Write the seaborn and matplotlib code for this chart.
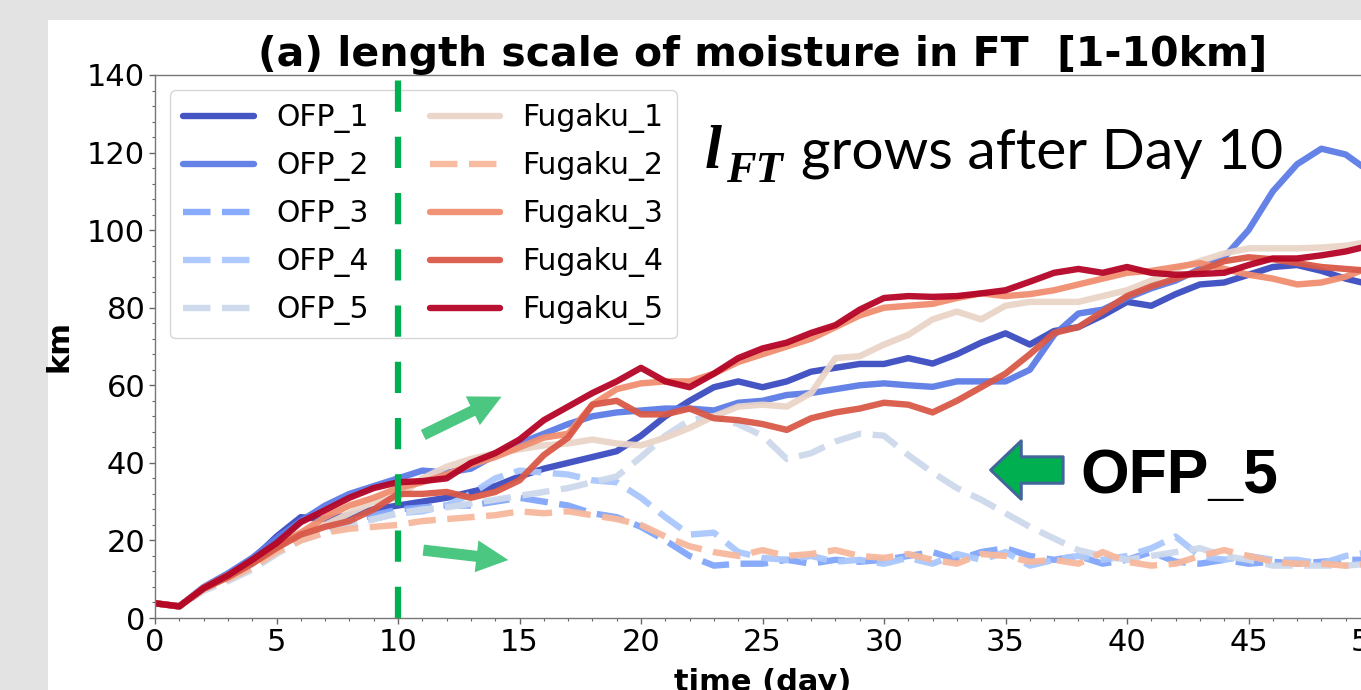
import numpy as np
import pandas as pd
import matplotlib
matplotlib.use("Agg")
import matplotlib.pyplot as plt
import seaborn as sns
from matplotlib.patches import Rectangle
from matplotlib.ticker import MultipleLocator

# ---------------- data ----------------
days = list(range(51))

ofp_1 = [3.8, 3.0, 7.8, 11, 15, 21, 26, 25.5, 26.5, 28, 29, 30, 31, 32.5, 34, 36.5, 38.5, 40, 41.5, 43,
         47, 52, 56, 59.5, 61, 59.5, 61, 63.5, 64.5, 65.5, 65.5, 67, 65.6, 68, 71, 73.4, 70.5, 74, 75, 78,
         81.5, 80.5, 83.5, 86, 86.5, 88.5, 90.5, 91, 89.5, 87.5, 86]
ofp_2 = [3.8, 3.0, 8, 11.5, 15.5, 20.5, 25, 29, 32, 34, 36, 38, 37.5, 38.5, 42, 45, 47.5, 50, 52, 53,
         53.5, 54, 54, 53.5, 55.5, 56, 57.5, 58, 59, 60, 60.5, 60, 59.6, 61, 61, 61, 64, 73, 78.5, 79.5,
         82.5, 85, 87, 90, 93, 100, 110, 117, 121, 119.5, 115]
ofp_3 = [3.8, 3.0, 7.5, 10, 13.5, 18, 21, 23, 25, 26.5, 28, 28.5, 29, 29, 30, 31, 30, 29, 27, 26,
         23.5, 20, 16, 13.5, 14, 14, 15, 14, 15, 14.5, 15, 16, 17, 15, 17, 18, 16, 15, 16, 14,
         15, 17, 14.5, 14, 15, 14, 14.5, 14, 14.5, 15, 15]
ofp_4 = [3.8, 3.0, 7.5, 10, 13.5, 17.5, 20.5, 22.5, 24, 25.5, 27, 27.5, 29, 32, 36, 38, 37.5, 37, 35.5, 35,
         31, 26, 21.5, 22, 17, 15.5, 15, 16, 14.5, 15, 14, 15.5, 14, 16.5, 15, 17, 13.5, 15, 16, 15,
         16, 18, 21, 16, 15, 16, 15, 15, 14, 16, 17]
ofp_5 = [3.8, 3.0, 7, 9.5, 12.5, 16.5, 20, 22, 24, 25.5, 27, 28, 28.5, 29.5, 30.5, 31.5, 32.5, 33.5, 35, 36.5,
         41.5, 47, 51, 52, 50, 47, 41, 42.5, 45.5, 47.5, 47, 42, 37.5, 33.5, 30.5, 27, 23.5, 20.5, 17.5, 16,
         15, 16, 17, 18, 16, 15, 13.5, 13.5, 13.5, 13.5, 14]
fugaku_1 = [3.8, 3.0, 7.5, 10.5, 14, 18.5, 22, 24, 27, 30, 31, 36, 39, 41, 42.5, 43.5, 44.5, 45, 46, 45,
            44.5, 46.5, 49, 52, 54.5, 55, 54.5, 58, 67, 67.5, 70.5, 73, 77, 79, 77, 80.5, 81.5, 81.5, 81.5, 83,
            84.5, 87, 90, 92, 94, 95.3, 95.3, 95.3, 95.5, 96, 97]
fugaku_2 = [3.8, 3.0, 7.5, 10, 13, 17, 20, 22, 23, 23.5, 24, 25, 25.5, 26, 26.5, 27.5, 27, 27.5, 26.5, 25.5,
            24, 21, 18.5, 17, 16, 17.5, 16, 16.5, 17.5, 16, 15.5, 16.5, 15, 14, 16.5, 16, 14.5, 15, 14, 17,
            14.5, 13.5, 14, 16, 17.5, 16, 14.5, 14, 14, 13.5, 14]
fugaku_3 = [3.8, 3.0, 7.8, 11, 14.5, 18.5, 22, 26, 29, 31, 33.5, 35, 37, 39.5, 41.5, 44, 46.5, 47.5, 55, 59,
            60.5, 61, 61, 63, 66, 68, 70, 72, 75, 78, 80, 80.5, 81, 82.5, 83.7, 83, 83.5, 84.5, 86, 87.5,
            89, 89.5, 90.5, 91.5, 90, 88.5, 87.5, 86, 86.5, 88, 90.5]
fugaku_4 = [3.8, 3.0, 7.5, 10.5, 14, 18, 21.5, 23.5, 25, 28, 32, 32, 32.5, 31, 32.5, 35.5, 42, 46.5, 55, 56,
            52.5, 52.5, 54, 51.5, 51, 50, 48.5, 51.5, 53, 54, 55.5, 55, 53, 56, 59.5, 63, 68, 73.5, 75, 79,
            83, 85.5, 87.5, 89.5, 92, 93, 92.5, 91.5, 90.5, 90, 89.5]
fugaku_5 = [3.8, 3.0, 7.7, 11, 15, 19.3, 24.7, 27.8, 31, 33.5, 35, 35.3, 36, 40, 42.5, 46, 51, 54.5, 58, 61,
            64.5, 61, 59.5, 63, 67, 69.5, 71, 73.5, 75.5, 79.5, 82.5, 83, 82.8, 83, 83.7, 84.5, 86.7, 89, 90, 89,
            90.5, 89, 88.5, 88.7, 89, 91, 92.7, 92.7, 93.5, 94.5, 96]

series_names = ["OFP_1", "OFP_2", "OFP_3", "OFP_4", "OFP_5",
                "Fugaku_1", "Fugaku_2", "Fugaku_3", "Fugaku_4", "Fugaku_5"]
series_values = [ofp_1, ofp_2, ofp_3, ofp_4, ofp_5,
                 fugaku_1, fugaku_2, fugaku_3, fugaku_4, fugaku_5]
dashed_series = ["OFP_3", "OFP_4", "OFP_5", "Fugaku_2"]

x_ticks = [0, 5, 10, 15, 20, 25, 30, 35, 40, 45, 50]
y_ticks = [0, 20, 40, 60, 80, 100, 120, 140]

title_text = "(a) length scale of moisture in FT  [1-10km]"

# ---------------- figure ----------------
sns.set_style("white")
plt.rcParams["font.family"] = ["DejaVu Sans"]
plt.rcParams["text.color"] = "black"
plt.rcParams["axes.labelcolor"] = "black"
plt.rcParams["axes.titlecolor"] = "black"

W, H = 1361, 690
fig = plt.figure(figsize=(W / 100, H / 100), dpi=100, facecolor="#e3e3e3")
fig.patches.append(Rectangle((48 / W, 0), 1, 1 - 20 / H, transform=fig.transFigure,
                             facecolor="white", edgecolor="none", zorder=-1))
ax = fig.add_axes([155 / W, 1 - 618 / H, (1370 - 155) / W, (618 - 75) / H])
ax.set_facecolor("white")

df = pd.DataFrame({"day": days})
for name, vals in zip(series_names, series_values):
    df[name] = vals

colors = plt.get_cmap("coolwarm")(np.linspace(0, 1, len(series_names)))
dash = (0, (4.3, 1.8))
for i, name in enumerate(series_names):
    ls = dash if name in dashed_series else "-"
    sns.lineplot(data=df, x="day", y=name, ax=ax, color=colors[i], lw=4.6,
                 linestyle=ls, label=name, legend=False, alpha=0.95, zorder=2 + i * 0.01)

ax.axvline(10, color="#00b050", lw=4.5, linestyle=(0, (5, 4)), zorder=6)

ax.set_xlim(0, 50)
ax.set_ylim(0, 140)
ax.set_xticks(x_ticks)
ax.set_yticks(y_ticks)
ax.xaxis.set_minor_locator(MultipleLocator(1))
ax.yaxis.set_minor_locator(MultipleLocator(4))
ax.tick_params(which="major", direction="out", length=4, width=1, color="#666666",
               labelcolor="black", labelsize=22, pad=3, bottom=True, left=True)
ax.tick_params(which="minor", direction="out", length=2.2, width=0.8, color="#666666",
               bottom=True, left=True)
for sp in ax.spines.values():
    sp.set_color("#777777")
    sp.set_linewidth(1.0)

ax.set_title(title_text, fontsize=29.5, fontweight="bold", pad=2, color="black")
ax.set_ylabel("km", fontsize=22, fontweight="bold", labelpad=10)
ax.set_xlabel("time (day)", fontsize=22, fontweight="bold", labelpad=8)

leg = ax.legend(ncol=2, loc="upper left", fontsize=21.5, handlelength=2.35,
                handletextpad=0.75, columnspacing=2.05, labelspacing=0.6,
                borderpad=0.45, framealpha=0.8)
for t in leg.get_texts():
    t.set_color("black")

# ---------------- slide annotations ----------------
arrow_green = "#4cc782"
ax.annotate("", xy=(14.26, 57.05), xytext=(11.04, 47.2),
            arrowprops=dict(arrowstyle="simple,head_length=2.3,head_width=2.3,tail_width=0.8",
                            mutation_scale=10, fc=arrow_green, ec="none", shrinkA=0, shrinkB=0),
            zorder=7)
ax.annotate("", xy=(14.54, 14.95), xytext=(11.04, 17.5),
            arrowprops=dict(arrowstyle="simple,head_length=2.3,head_width=2.3,tail_width=0.8",
                            mutation_scale=10, fc=arrow_green, ec="none", shrinkA=0, shrinkB=0),
            zorder=7)
ax.annotate("", xy=(34.39, 38.15), xytext=(37.37, 38.15),
            arrowprops=dict(arrowstyle="simple,head_length=2.2,head_width=4.2,tail_width=1.9",
                            mutation_scale=10, fc="#00b050", ec="#41669a", lw=2.2,
                            shrinkA=0, shrinkB=0),
            zorder=7)
ax.text(38.1, 32.2, "OFP_5", fontsize=45, fontweight="bold", color="black",
        family=["Liberation Sans", "DejaVu Sans"], va="baseline", ha="left", zorder=7)

ax.text(22.6, 116, "l", fontsize=44, fontweight="bold", style="italic", color="black",
        family=["Liberation Serif", "DejaVu Serif"], va="baseline", ha="left", zorder=7)
ax.text(23.5, 112.4, "FT", fontsize=32, fontweight="bold", style="italic", color="black",
        family=["Liberation Serif", "DejaVu Serif"], va="baseline", ha="left", zorder=7)
grows = ax.text(26.58, 116, "grows after Day 10", fontsize=40, color="black",
                family=["Lato", "DejaVu Sans"], va="baseline", ha="left", zorder=7)

# fit the annotation width to the reference (about 482 px)
fig.canvas.draw()
bb = grows.get_window_extent()
grows.set_fontsize(40 * 482 / bb.width)

fig.savefig("out.png", dpi=100, facecolor=fig.get_facecolor())
